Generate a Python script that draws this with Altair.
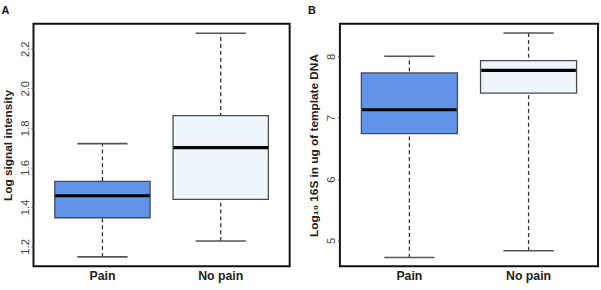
import altair as alt
import pandas as pd

groups = ["Pain", "No pain"]
fills = ["#6193e8", "#eef6fc"]

# Panel A: Log signal intensity
a_low = [1.147, 1.227]
a_q1 = [1.345, 1.438]
a_med = [1.456, 1.700]
a_q3 = [1.529, 1.861]
a_high = [1.720, 2.278]
a_ticks = [1.2, 1.4, 1.6, 1.8, 2.0, 2.2]

# Panel B: Log10 16S in ug of template DNA
b_low = [4.72, 4.83]
b_q1 = [6.74, 7.40]
b_med = [7.13, 7.77]
b_q3 = [7.73, 7.93]
b_high = [8.00, 8.38]
b_ticks = [5, 6, 7, 8]

FONT = "Liberation Sans"


def panel(letter, low, q1, med, q3, high, domain, ticks, ytitle, fmt, w):
    df = pd.DataFrame({"g": groups, "low": low, "q1": q1, "med": med,
                       "q3": q3, "high": high, "fill": fills})
    xenc = alt.X("g:N", sort=groups, title=None,
                 scale=alt.Scale(paddingInner=0.194, paddingOuter=0.18),
                 axis=alt.Axis(labelAngle=0, labelFontWeight="bold", labelFontSize=12.5,
                               labelColor="#222222", ticks=False, domain=False,
                               labelPadding=4, labelFont=FONT))
    yscale = alt.Scale(domain=domain, nice=False, zero=False)
    yaxis = alt.Axis(values=ticks, format=fmt, labelAngle=270, labelAlign="center",
                     labelBaseline="bottom", tickSize=2.5, tickColor="#444444",
                     labelPadding=1, labelFontSize=11.5, labelColor="#444444",
                     domain=False, grid=False, title=ytitle, titleFontSize=12,
                     titleFontWeight="bold", titleColor="#222222", titlePadding=5,
                     titleFont=FONT, labelFont=FONT)
    base = alt.Chart(df)
    whisk = base.mark_rule(color="#333333", strokeDash=[4, 3], strokeWidth=1.3).encode(
        x=xenc, y=alt.Y("low:Q", scale=yscale, axis=yaxis), y2="high:Q")
    box = base.mark_bar(stroke="#4a4a4a", strokeWidth=1.3, opacity=1).encode(
        x=xenc, y=alt.Y("q1:Q", scale=yscale, axis=yaxis), y2="q3:Q",
        fill=alt.Fill("fill:N", scale=None))
    cap_lo = base.mark_tick(color="#555555", thickness=1.6, size=51, opacity=1).encode(
        x=xenc, y=alt.Y("low:Q", scale=yscale, axis=yaxis))
    cap_hi = base.mark_tick(color="#555555", thickness=1.6, size=51, opacity=1).encode(
        x=xenc, y=alt.Y("high:Q", scale=yscale, axis=yaxis))
    med_t = base.mark_tick(color="#000000", thickness=3.2, size=96, opacity=1).encode(
        x=xenc, y=alt.Y("med:Q", scale=yscale, axis=yaxis))
    return alt.layer(whisk, box, cap_lo, cap_hi, med_t).properties(
        width=w, height=246,
        title=alt.TitleParams(letter, anchor="start", frame="bounds", fontSize=11,
                              fontWeight="bold", font=FONT, offset=8, color="#111111"))


pa = panel("A", a_low, a_q1, a_med, a_q3, a_high, [1.10, 2.326], a_ticks,
           "Log signal intensity", ".1f", 260)
pb = panel("B", b_low, b_q1, b_med, b_q3, b_high, [4.58, 8.53], b_ticks,
           "Log₁₀ 16S in ug of template DNA", "d", 262)

chart = alt.hconcat(pa, pb, spacing=16).properties(
    padding={"left": 0, "top": 2, "right": 2, "bottom": 2},
    background="white",
).configure_view(stroke="#111111", strokeWidth=2).configure_concat(spacing=16)

chart.save("out.html", embed_options={"renderer": "svg", "actions": False})
